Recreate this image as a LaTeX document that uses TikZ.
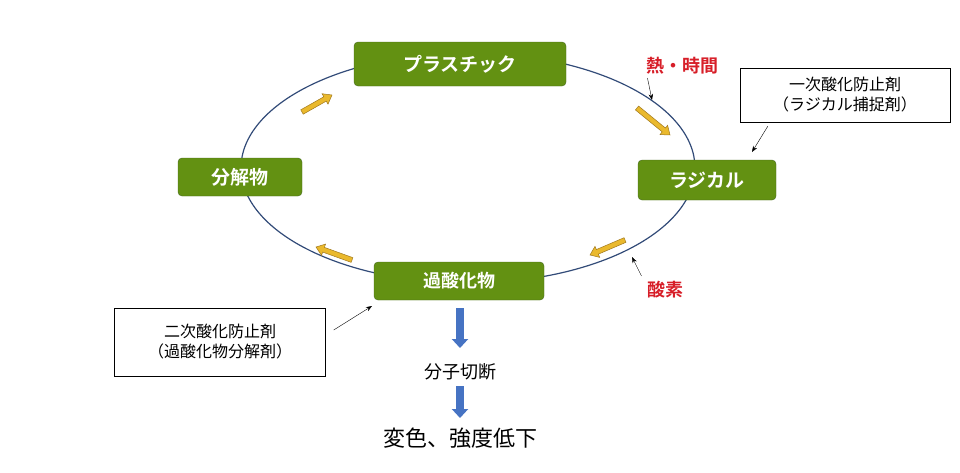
\documentclass[tikz,border=0pt]{standalone}
\usepackage{fontspec}
\newfontfamily\cjk{Noto Sans CJK JP}
\newfontfamily\cjkb{Noto Sans CJK JP Bold}
\usetikzlibrary{arrows.meta,calc}
\definecolor{leaf}{RGB}{99,145,18}
\definecolor{leafdark}{RGB}{70,105,30}
\definecolor{ring}{RGB}{50,75,120}
\definecolor{gold}{RGB}{234,185,45}
\definecolor{golddark}{RGB}{160,120,30}
\definecolor{heat}{RGB}{215,30,40}
\definecolor{flow}{RGB}{70,115,195}
\begin{document}
\begin{tikzpicture}[x=1pt,y=-1pt,
		every node/.style={font=\cjk},
		stage/.style={rectangle,rounded corners=4pt,fill=leaf,draw=leafdark,text=white,font=\cjkb\fontsize{19}{19}\selectfont,inner sep=0pt},
		note/.style={rectangle,draw,fill=white,thin,font=\cjk\fontsize{16}{20}\selectfont,align=center,inner sep=0pt},
		cause/.style={text=heat,font=\cjkb\fontsize{18}{18}\selectfont},
		pointer/.style={-{Stealth[length=6pt]},thin},
		turn/.style={draw=golddark,fill=gold,line width=0.5pt},
		down/.style={-{Triangle[length=9pt,width=16pt]},line width=8pt,flow}]
		
		\useasboundingbox (0,0) rectangle (960,472);
		\draw[ring,line width=1.2pt] (468,168) ellipse [x radius=227,y radius=115];
		
		\node[stage,minimum width=212pt,minimum height=44pt] (plastic) at (460,64) {プラスチック};
		\node[stage,minimum width=138pt,minimum height=40pt] (radical) at (707,180) {ラジカル};
		\node[stage,minimum width=124pt,minimum height=38pt] (residue) at (240,177) {分解物};
		\node[stage,minimum width=170pt,minimum height=38pt,font=\cjkb\fontsize{18}{18}\selectfont] (peroxide) at (459,281) {過酸化物};
		
		\node[cause] (heat) at (682,66) {熱・時間};
		\node[cause] (oxygen) at (665,290) {酸素};
		\node[note,minimum width=210pt,minimum height=54pt] (first) at (845,95) {一次酸化防止剤\\（ラジカル捕捉剤）};
		\node[note,minimum width=211pt,minimum height=68pt] (second) at (220,342) {二次酸化防止剤\\（過酸化物分解剤）};
		\node[font=\cjk\fontsize{18}{18}\selectfont] (scission) at (460,372) {分子切断};
		\node[font=\cjk\fontsize{22}{22}\selectfont] (decay) at (460,438) {変色、強度低下};
		
		\coordinate (h1) at (652,100);
		\coordinate (f1) at (752,152);
		\coordinate (o1) at (632,257);
		\coordinate (s1) at (372,306);
		\draw[pointer] (heat.south west) ++(5,0) -- (h1);
		\draw[pointer] (first.south west) ++(28,4) -- (f1);
		\draw[pointer] (oxygen.north west) ++(-2,-2) -- (o1);
		\draw[pointer] (second.east) ++(8,-12) -- (s1);
		
		% yellow cycle arrows
		\foreach \sx/\sy/\ex/\ey in {302/112/332/95, 637/108/670/135, 625/240/590/255, 352/260/316/247}{
			\path (\sx,\sy) coordinate (s) (\ex,\ey) coordinate (e);
			\draw[turn] let \p1=($(e)-(s)$), \n1={atan2(\y1,\x1)}, \n2={veclen(\x1,\y1)} in
				[shift={(s)},rotate=\n1]
				(0,-2.5) -- (\n2-8,-2.5) -- (\n2-8,-6) -- (\n2,0) -- (\n2-8,6) -- (\n2-8,2.5) -- (0,2.5) -- cycle;
		}
		
		\coordinate (p1) at (460,308);
		\coordinate (p2) at (460,348);
		\coordinate (q1) at (460,386);
		\coordinate (q2) at (460,418);
		\draw[down] (p1) -- (p2);
		\draw[down] (q1) -- (q2);
		\end{tikzpicture}
\end{document}
